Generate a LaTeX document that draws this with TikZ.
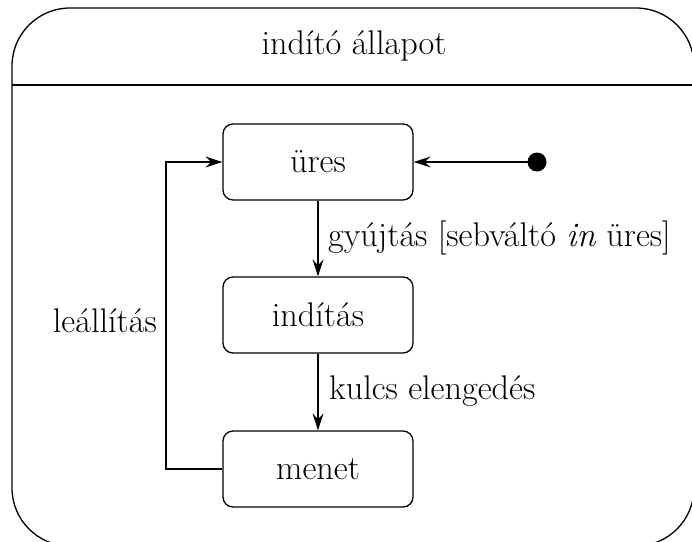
\documentclass[tikz,border=0pt]{standalone}
\usepackage{fontspec}
\usetikzlibrary{arrows.meta}
\begin{document}
\begin{tikzpicture}[x=1pt,y=-1pt,
  every node/.style={font=\fontsize{34.2}{41}\selectfont},
  state/.style={draw, line width=1.3pt, rounded corners=10pt,
    minimum width=190pt, minimum height=76pt, inner sep=0pt},
  trans/.style={line width=1.3pt,
    -{Stealth[length=17pt,width=11pt,inset=6pt]}},
  lbl/.style={inner sep=0pt}]
  \useasboundingbox (0,0) rectangle (692,541);
  % enclosing composite state
  \draw[line width=1.3pt, rounded corners=58pt] (12,8) rectangle (694,546);
  \draw[line width=1.3pt] (12,85) -- (694,85);
  \node (title) at (354,46) {indító állapot};
  % substates
  \node[state] (ures) at (318,162) {üres};
  \node[state] (inditas) at (318,315) {indítás};
  \node[state] (menet) at (318,469) {menet};
  % initial pseudostate
  \fill (537,162) circle (9.5pt);
  \coordinate (init) at (537,162);
  \coordinate (loopb) at (166,469);
  \coordinate (loopt) at (166,162);
  % transitions
  \draw[trans] (init) -- (ures.east);
  \draw[trans] (ures.south) -- (inditas.north);
  \draw[trans] (inditas.south) -- (menet.north);
  \draw[trans] (menet.west) -- (loopb) -- (loopt) -- (ures.west);
  % labels
  \node[lbl, anchor=west] (l1) at (328,238) {gyújtás [sebváltó \textit{in} üres]};
  \node[lbl, anchor=west] (l2) at (329,391) {kulcs elengedés};
  \node[lbl, anchor=east] (l3) at (157,321) {leállítás};
\end{tikzpicture}
\end{document}
